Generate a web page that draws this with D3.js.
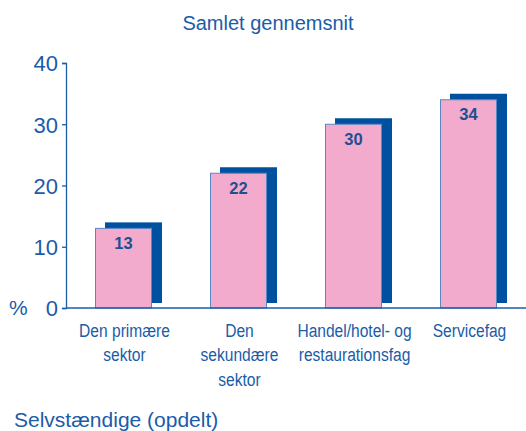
<!DOCTYPE html>
<html>
<head>
<meta charset="utf-8">
<script src="https://cdn.jsdelivr.net/npm/d3@7"></script>
<style>
  body { margin: 0; background: #fff; }
  svg text { font-family: "Liberation Sans", Arial, sans-serif; }
</style>
</head>
<body>
<div id="chart"></div>
<script>
// data
var categories = ["Den primære sektor", "Den sekundære sektor", "Handel/hotel- og restaurationsfag", "Servicefag"];
var catLines = [["Den primære", "sektor"], ["Den", "sekundære", "sektor"], ["Handel/hotel- og", "restaurationsfag"], ["Servicefag"]];
var values = [13, 22, 30, 34];
var yTicks = [0, 10, 20, 30, 40];

var width = 526, height = 431;
var blue = "#1a5ca8", dark = "#0050a0", pink = "#f2abcd";

var svg = d3.select("#chart").append("svg")
    .attr("width", width)
    .attr("height", height);

var x = d3.scaleBand()
    .domain(categories)
    .range([66, 526])
    .paddingInner(0.513)
    .paddingOuter(0.2565);

var y = d3.scaleLinear()
    .domain([0, 40])
    .range([308, 63]);

// title
svg.append("text")
    .attr("x", 268).attr("y", 30)
    .attr("text-anchor", "middle")
    .attr("font-size", 20)
    .attr("fill", blue)
    .text("Samlet gennemsnit");

// shadows
var dx = 9.5, dy = 6;
svg.selectAll(".shadow")
    .data(values)
    .enter().append("rect")
    .attr("class", "shadow")
    .attr("x", function(d, i) { return x(categories[i]) + dx; })
    .attr("y", function(d) { return y(d) - dy; })
    .attr("width", x.bandwidth() + 1)
    .attr("height", function(d) { return y(0) - 5 - y(d) + dy; })
    .attr("fill", dark);

// pink bars
svg.selectAll(".bar")
    .data(values)
    .enter().append("rect")
    .attr("class", "bar")
    .attr("x", function(d, i) { return x(categories[i]); })
    .attr("y", function(d) { return y(d); })
    .attr("width", x.bandwidth())
    .attr("height", function(d) { return y(0) - y(d); })
    .attr("fill", pink)
    .attr("stroke", "#5a86c4")
    .attr("stroke-width", 1);

svg.selectAll(".val")
    .data(values)
    .enter().append("text")
    .attr("class", "val")
    .attr("x", function(d, i) { return x(categories[i]) + x.bandwidth() / 2; })
    .attr("y", function(d) { return y(d) + 20.5; })
    .attr("text-anchor", "middle")
    .attr("font-size", 16.5)
    .attr("font-weight", "bold")
    .attr("fill", "#1d4f93")
    .text(function(d) { return d; });

// y axis
var yAxis = svg.append("g")
    .attr("transform", "translate(66,0)")
    .call(d3.axisLeft(y).tickValues(yTicks).tickSize(4).tickPadding(4));
yAxis.select(".domain").attr("stroke", blue).attr("stroke-width", 1.3);
yAxis.selectAll(".tick line").attr("stroke", blue).attr("stroke-width", 1.3);
yAxis.selectAll(".tick text")
    .attr("fill", blue)
    .attr("font-size", 22)
    .attr("font-family", "Liberation Sans, Arial, sans-serif")
    .attr("dy", "0.36em");

// baseline
svg.append("line")
    .attr("x1", 66).attr("x2", 526)
    .attr("y1", y(0)).attr("y2", y(0))
    .attr("stroke", blue).attr("stroke-width", 1.5);

svg.append("text")
    .attr("x", 9).attr("y", y(0) + 7)
    .attr("font-size", 21)
    .attr("fill", blue)
    .text("%");

// category labels (narrow look: squeezed horizontally)
var lab = svg.selectAll(".cat")
    .data(catLines)
    .enter().append("text")
    .attr("class", "cat")
    .attr("text-anchor", "middle")
    .attr("font-size", 19)
    .attr("fill", blue)
    .attr("transform", function(d, i) {
        return "translate(" + (x(categories[i]) + x.bandwidth() / 2 + 1) + ",336.5) scale(0.82,1)";
    });
lab.selectAll("tspan")
    .data(function(d) { return d; })
    .enter().append("tspan")
    .attr("x", 0)
    .attr("dy", function(d, j) { return j === 0 ? 0 : 25; })
    .text(function(d) { return d; });

svg.append("text")
    .attr("x", 14).attr("y", 427)
    .attr("font-size", 21)
    .attr("fill", blue)
    .text("Selvstændige (opdelt)");
</script>
</body>
</html>
